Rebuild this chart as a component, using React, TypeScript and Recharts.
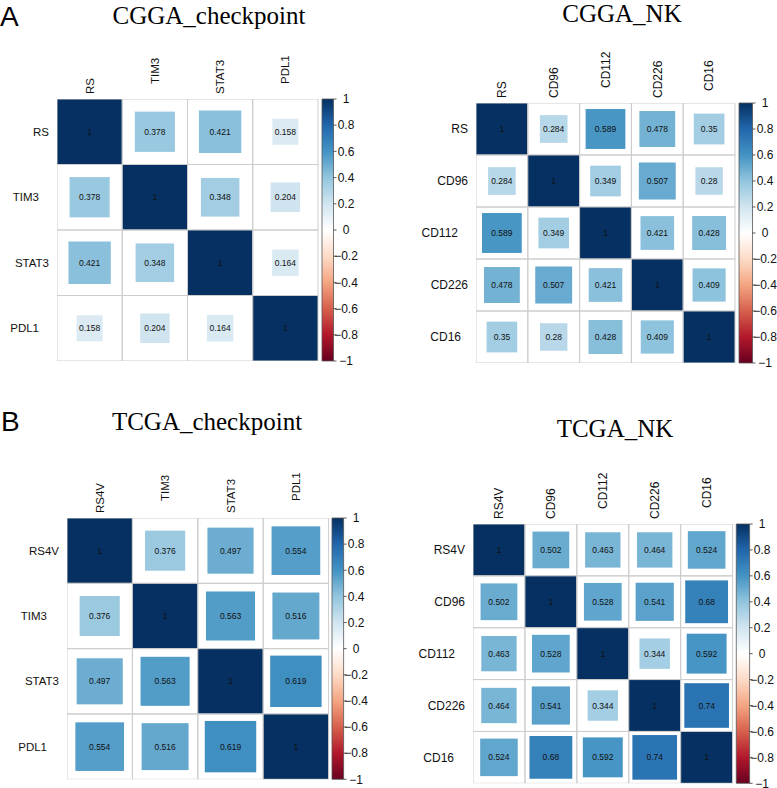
import React from "react";
import { ScatterChart, Scatter, XAxis, YAxis, ReferenceArea } from "recharts";

// correlation matrices
const cggaCheckLabels = ["RS", "TIM3", "STAT3", "PDL1"];
const cggaCheckValues = [
  [1, 0.378, 0.421, 0.158],
  [0.378, 1, 0.348, 0.204],
  [0.421, 0.348, 1, 0.164],
  [0.158, 0.204, 0.164, 1],
];

const cggaNkLabels = ["RS", "CD96", "CD112", "CD226", "CD16"];
const cggaNkValues = [
  [1, 0.284, 0.589, 0.478, 0.35],
  [0.284, 1, 0.349, 0.507, 0.28],
  [0.589, 0.349, 1, 0.421, 0.428],
  [0.478, 0.507, 0.421, 1, 0.409],
  [0.35, 0.28, 0.428, 0.409, 1],
];

const tcgaCheckLabels = ["RS4V", "TIM3", "STAT3", "PDL1"];
const tcgaCheckValues = [
  [1, 0.376, 0.497, 0.554],
  [0.376, 1, 0.563, 0.516],
  [0.497, 0.563, 1, 0.619],
  [0.554, 0.516, 0.619, 1],
];

const tcgaNkLabels = ["RS4V", "CD96", "CD112", "CD226", "CD16"];
const tcgaNkValues = [
  [1, 0.502, 0.463, 0.464, 0.524],
  [0.502, 1, 0.528, 0.541, 0.68],
  [0.463, 0.528, 1, 0.344, 0.592],
  [0.464, 0.541, 0.344, 1, 0.74],
  [0.524, 0.68, 0.592, 0.74, 1],
];

const colorbarTicks = [1, 0.8, 0.6, 0.4, 0.2, 0, -0.2, -0.4, -0.6, -0.8, -1];

// corrplot RdBu palette, -1 .. 1
const RDBU = ["#67001F", "#B2182B", "#D6604D", "#F4A582", "#FDDBC7", "#FFFFFF", "#D1E5F0", "#92C5DE", "#4393C3", "#2166AC", "#053061"];

const SANS = "'Liberation Sans', Arial, sans-serif";
const SERIF = "'Liberation Serif', 'Times New Roman', serif";

function hexRgb(h: string) {
  return [1, 3, 5].map((i) => parseInt(h.slice(i, i + 2), 16));
}

function corrColor(r: number) {
  const t = ((r + 1) / 2) * 10;
  const i = Math.min(9, Math.max(0, Math.floor(t)));
  const f = t - i;
  const a = hexRgb(RDBU[i]);
  const b = hexRgb(RDBU[i + 1]);
  const c = a.map((v, k) => Math.round(v + (b[k] - v) * f));
  return `rgb(${c[0]},${c[1]},${c[2]})`;
}

type Layout = {
  gridL: number;
  gridT: number;
  gridR: number;
  gridB: number;
  cbGap: number;
  cbW: number;
  font: number;
  lift: number[];
};

const YW = 70;
const XH = 80;
const RW = 34;
const BM = 12;

function CorrPanel({ id, labels, values, layout }: { id: string; labels: string[]; values: number[][]; layout: Layout }) {
  const { gridL, gridT, gridR, gridB, cbGap, cbW, font, lift } = layout;
  const n = labels.length;
  const cw = (gridR - gridL) / n;
  const ch = (gridB - gridT) / n;
  const plotW = gridR - gridL + cbGap + cbW;
  const plotH = gridB - gridT;
  const xMax = n + (cbGap + cbW) / cw;
  const cbX1 = n + cbGap / cw;
  const centers = labels.map((_, i) => i + 0.5);
  const cells = values.flatMap((row, i) => row.map((r, j) => ({ x: j + 0.5, y: i + 0.5, r })));
  // anchors the colour-bar axis to its own scale
  const cbPoints = colorbarTicks.map((v) => ({ x: (cbX1 + xMax) / 2, y: v }));

  const CellShape = (props: any) => {
    const { cx, cy, payload } = props;
    const a = Math.sqrt(Math.abs(payload.r));
    const w = cw * a;
    const h = ch * a;
    return (
      <g>
        <rect x={cx - w / 2} y={cy - h / 2} width={w} height={h} fill={corrColor(payload.r)} />
        <text x={cx} y={cy} dy="0.355em" textAnchor="middle" fontSize={8.5} fontFamily={SANS} fill="#111">
          {String(payload.r)}
        </text>
        <rect x={cx - cw / 2} y={cy - ch / 2} width={cw} height={ch} fill="none" stroke="#cdcdcd" strokeWidth={1} />
      </g>
    );
  };

  const ColTick = (props: any) => {
    const { x, y, payload } = props;
    const i = Math.floor(payload.value);
    const yy = y - (lift[i] || 0);
    return (
      <text x={x} y={yy} dy="0.355em" transform={`rotate(-90, ${x}, ${yy})`} textAnchor="start" fontSize={font} fontFamily={SANS} fill="#111">
        {labels[i]}
      </text>
    );
  };

  const RowTick = (props: any) => {
    const { x, y, payload } = props;
    const i = Math.floor(payload.value);
    return (
      <text x={x - (lift[i] || 0)} y={y} dy="0.355em" textAnchor="end" fontSize={font} fontFamily={SANS} fill="#111">
        {labels[i]}
      </text>
    );
  };

  const CbTick = (props: any) => {
    const { x, y, payload } = props;
    const v = payload.value;
    const txt = v < 0 ? "\u2212" + String(Math.abs(v)) : String(v);
    return (
      <text x={x + 7.5} y={y} dy="0.355em" textAnchor="middle" fontSize={12} fontFamily={SANS} fill="#111">
        {txt}
      </text>
    );
  };

  return (
    <div style={{ position: "absolute", left: gridL - YW, top: gridT - XH }}>
      <ScatterChart width={YW + plotW + RW} height={XH + plotH + BM} margin={{ top: 0, right: 0, bottom: BM, left: 0 }}>
        <defs>
          <linearGradient id={`cb-${id}`} x1="0" y1="0" x2="0" y2="1">
            {RDBU.slice()
              .reverse()
              .map((c, k) => (
                <stop key={k} offset={`${k * 10}%`} stopColor={c} />
              ))}
          </linearGradient>
        </defs>
        <XAxis
          type="number"
          dataKey="x"
          orientation="top"
          domain={[0, xMax]}
          allowDataOverflow
          ticks={centers}
          interval={0}
          height={XH}
          axisLine={false}
          tickLine={false}
          tickSize={0}
          tickMargin={5}
          tick={<ColTick />}
        />
        <YAxis
          yAxisId="rows"
          type="number"
          dataKey="y"
          domain={[0, n]}
          allowDataOverflow
          reversed
          ticks={centers}
          interval={0}
          width={YW}
          axisLine={false}
          tickLine={false}
          tickSize={0}
          tickMargin={8}
          tick={<RowTick />}
        />
        <YAxis
          yAxisId="cb"
          type="number"
          dataKey="y"
          orientation="right"
          domain={[-1, 1]}
          allowDataOverflow
          ticks={colorbarTicks}
          interval={0}
          width={RW}
          axisLine={false}
          tickLine={{ stroke: "#333", strokeWidth: 0.8 }}
          tickSize={3}
          tickMargin={2}
          tick={<CbTick />}
        />
        <ReferenceArea
          yAxisId="cb"
          x1={cbX1}
          x2={xMax}
          y1={-1}
          y2={1}
          fill={`url(#cb-${id})`}
          fillOpacity={1}
          stroke="#555"
          strokeWidth={0.8}
          ifOverflow="visible"
        />
        <Scatter yAxisId="cb" data={cbPoints} shape={() => <g />} isAnimationActive={false} />
        <Scatter yAxisId="rows" data={cells} shape={<CellShape />} isAnimationActive={false} />
      </ScatterChart>
    </div>
  );
}

const layouts: Record<string, Layout> = {
  cggaCheck: { gridL: 57, gridT: 99, gridR: 318, gridB: 361, cbGap: 4, cbW: 11.5, font: 11.5, lift: [0, 10, 0, 10] },
  cggaNk: { gridL: 476, gridT: 103, gridR: 735, gridB: 363, cbGap: 4, cbW: 13.5, font: 12, lift: [0, 0, 10, 0, 7] },
  tcgaCheck: { gridL: 66.7, gridT: 517.7, gridR: 328.3, gridB: 779, cbGap: 3.4, cbW: 11.6, font: 11.5, lift: [0, 12, 0, 12] },
  tcgaNk: { gridL: 472.7, gridT: 524, gridR: 732.3, gridB: 783.3, cbGap: 3.7, cbW: 13.3, font: 12, lift: [0, 0, 10, 0, 11] },
};

export default function App() {
  return (
    <div style={{ position: "absolute", left: 0, top: 0, width: 777, height: 788, overflow: "hidden", background: "#fff" }}>
      <svg width={777} height={788} style={{ position: "absolute", left: 0, top: 0 }}>
        <text x={0} y={26} fontSize={28} fontFamily={SANS} fill="#000">A</text>
        <text x={1} y={431} fontSize={28} fontFamily={SANS} fill="#000">B</text>
        <text x={209} y={24} textAnchor="middle" fontSize={25} fontFamily={SERIF} fill="#000">CGGA_checkpoint</text>
        <text x={622} y={22} textAnchor="middle" fontSize={25} fontFamily={SERIF} fill="#000">CGGA_NK</text>
        <text x={207} y={430} textAnchor="middle" fontSize={25} fontFamily={SERIF} fill="#000">TCGA_checkpoint</text>
        <text x={615} y={437} textAnchor="middle" fontSize={25} fontFamily={SERIF} fill="#000">TCGA_NK</text>
      </svg>
      <CorrPanel id="a1" labels={cggaCheckLabels} values={cggaCheckValues} layout={layouts.cggaCheck} />
      <CorrPanel id="a2" labels={cggaNkLabels} values={cggaNkValues} layout={layouts.cggaNk} />
      <CorrPanel id="b1" labels={tcgaCheckLabels} values={tcgaCheckValues} layout={layouts.tcgaCheck} />
      <CorrPanel id="b2" labels={tcgaNkLabels} values={tcgaNkValues} layout={layouts.tcgaNk} />
    </div>
  );
}
